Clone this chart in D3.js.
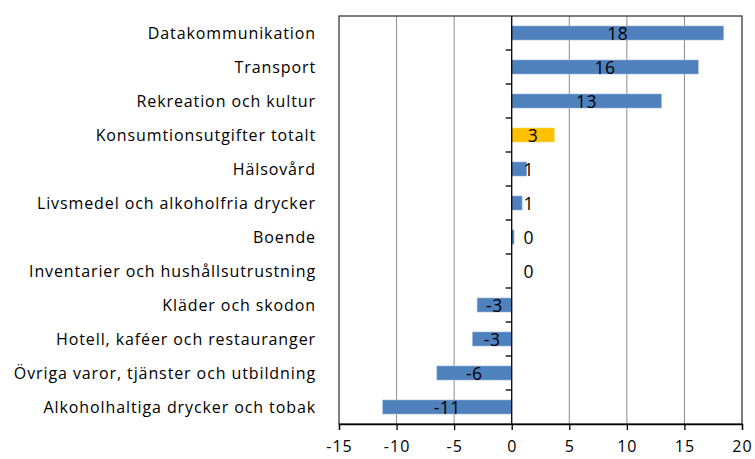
<!DOCTYPE html>
<html>
<head>
<meta charset="utf-8">
<script src="https://cdn.jsdelivr.net/npm/d3@7"></script>
<style>
  body { margin: 0; background: #fff; }
  text { font-family: "Open Sans", sans-serif; fill: #000; }
</style>
</head>
<body>
<svg width="755" height="459"></svg>
<script>
// categories top to bottom
const categories = [
  'Datakommunikation',
  'Transport',
  'Rekreation och kultur',
  'Konsumtionsutgifter totalt',
  'Hälsovård',
  'Livsmedel och alkoholfria drycker',
  'Boende',
  'Inventarier och hushållsutrustning',
  'Kläder och skodon',
  'Hotell, kaféer och restauranger',
  'Övriga varor, tjänster och utbildning',
  'Alkoholhaltiga drycker och tobak'
];
const values = [18.4, 16.2, 13.0, 3.7, 1.3, 0.9, 0.2, 0, -3.0, -3.4, -6.5, -11.2];
const valueLabels = ['18', '16', '13', '3', '1', '1', '0', '0', '-3', '-3', '-6', '-11'];
const highlight = 'Konsumtionsutgifter totalt';
const xTicks = [-15, -10, -5, 0, 5, 10, 15, 20];

const svg = d3.select('svg');
const margin = { top: 16, right: 13, bottom: 35, left: 339 };
const width = 755 - margin.left - margin.right;
const height = 459 - margin.top - margin.bottom;

const g = svg.append('g').attr('transform', `translate(${margin.left},${margin.top})`);

const x = d3.scaleLinear().domain([-15, 20]).range([0, width]);
const band = d3.scaleBand().domain(categories).range([0, height]);

// gridlines
g.selectAll('.grid')
  .data(xTicks.filter(d => d !== 0 && d !== -15 && d !== 20))
  .enter()
  .append('line')
  .attr('x1', d => x(d))
  .attr('x2', d => x(d))
  .attr('y1', 0)
  .attr('y2', height)
  .attr('stroke', '#8c8c8c')
  .attr('stroke-width', 1);

// plot border
g.append('rect')
  .attr('x', 0).attr('y', 0)
  .attr('width', width).attr('height', height)
  .attr('fill', 'none')
  .attr('stroke', '#3a3a3a')
  .attr('stroke-width', 1.3);

// bars
const data = categories.map((c, i) => ({ cat: c, v: values[i], label: valueLabels[i] }));

g.selectAll('.bar')
  .data(data)
  .enter()
  .append('rect')
  .attr('x', d => x(Math.min(0, d.v)))
  .attr('width', d => Math.abs(x(d.v) - x(0)))
  .attr('y', d => band(d.cat) + band.bandwidth() / 2 - 7)
  .attr('height', 14)
  .attr('fill', d => d.cat === highlight ? '#ffc000' : '#4f81bd')
  .attr('stroke', d => d.cat === highlight ? '#ffd966' : '#95b3d7')
  .attr('stroke-width', 0.6);

// zero axis with ticks between categories
g.append('line')
  .attr('x1', x(0)).attr('x2', x(0))
  .attr('y1', 0).attr('y2', height)
  .attr('stroke', '#000').attr('stroke-width', 1.3);

g.selectAll('.ytick')
  .data(categories.slice(1))
  .enter()
  .append('line')
  .attr('x1', x(0) - 6).attr('x2', x(0))
  .attr('y1', d => band(d)).attr('y2', d => band(d))
  .attr('stroke', '#000').attr('stroke-width', 1.3);

// value labels
g.selectAll('.vlabel')
  .data(data)
  .enter()
  .append('text')
  .attr('x', d => {
    const mid = (x(0) + x(d.v)) / 2;
    return Math.abs(d.v) < 2 ? x(0) + 17 : mid;
  })
  .attr('y', d => band(d.cat) + band.bandwidth() / 2 + 7)
  .attr('text-anchor', 'middle')
  .style('font-size', '17.5px')
  .style('letter-spacing', '0.5px')
  .text(d => d.label);

// category labels
g.selectAll('.clabel')
  .data(categories)
  .enter()
  .append('text')
  .attr('x', -23)
  .attr('y', d => band(d) + band.bandwidth() / 2 + 6)
  .attr('text-anchor', 'end')
  .style('font-size', '16px')
  .style('letter-spacing', '0.9px')
  .text(d => d);

// x axis
const xAxis = g.append('g')
  .attr('transform', `translate(0,${height})`)
  .call(d3.axisBottom(x).tickValues(xTicks).tickSize(6).tickPadding(11).tickFormat(d3.format('d')));
xAxis.select('.domain').attr('stroke', '#000').attr('stroke-width', 1.3);
xAxis.selectAll('.tick line').attr('stroke', '#000').attr('stroke-width', 1.3);
xAxis.selectAll('.tick text')
  .style('font-family', '"Open Sans", sans-serif')
  .style('font-size', '16px')
  .style('letter-spacing', '1px')
  .text(d => d < 0 ? '-' + Math.abs(d) : d);
</script>
</body>
</html>
